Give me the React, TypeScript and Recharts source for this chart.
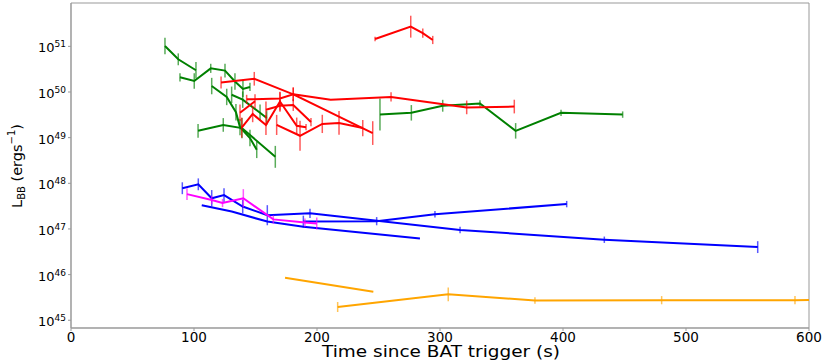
import React from 'react';
import { LineChart, Line, XAxis, YAxis, ErrorBar, ReferenceArea } from 'recharts';

// ---- data: time (s), luminosity L_BB (erg/s), error half-width (dex) ----
const g1T = [76.4, 87.2, 101.6];
const g1L = [1.02e51, 5.2e50, 3.0e50];
const g1E = [0.18, 0.13, 0.18];

const g2T = [88.6, 100.2, 113.6, 125.2, 133.3, 139.8, 145.5];
const g2L = [2.1e50, 1.74e50, 3.3e50, 2.95e50, 1.7e50, 1.17e50, 1.29e50];
const g2E = [0.09, 0.17, 0.1, 0.15, 0.18, 0.18, 0.09];

const g3T = [114.4, 126.6, 134.1, 137.4, 145.5, 151.0];
const g3L = [1.35e50, 7.8e49, 3.6e49, 1.7e49, 9.8e48, 5.4e48];
const g3E = [0.18, 0.18, 0.18, 0.18, 0.18, 0.18];

const g4T = [130.6, 139.6, 153.7, 159.1];
const g4L = [8.7e49, 6.8e49, 3.5e49, 2.7e49];
const g4E = [0.18, 0.18, 0.18, 0.15];

const g5T = [103.3, 123.8, 139.0, 166.1];
const g5L = [1.41e49, 1.9e49, 1.62e49, 3.8e48];
const g5E = [0.15, 0.15, 0.22, 0.24];

const g6T = [251.2, 276.7, 302.2, 332.5, 361.5, 398.4, 448.5];
const g6L = [3.2e49, 3.5e49, 5.0e49, 5.6e49, 1.41e49, 3.5e49, 3.2e49];
const g6E = [0.35, 0.17, 0.13, 0.07, 0.17, 0.07, 0.07];

const rTopT = [247.2, 276.2, 286.0, 294.1];
const rTopL = [1.45e51, 2.7e51, 1.95e51, 1.38e51];
const rTopE = [0.05, 0.24, 0.1, 0.09];

const r1T = [122.0, 149.0, 180.7, 211.1, 260.2, 321.7, 360.4];
const r1L = [1.62e50, 1.95e50, 8.9e49, 6.8e49, 7.8e49, 4.6e49, 4.8e49];
const r1E = [0.13, 0.15, 0.15, 0, 0.1, 0.15, 0.15];

const r2T = [142.8, 169.9, 180.7, 245.3];
const r2L = [6.9e49, 7.2e49, 8.9e49, 1.26e49];
const r2E = [0.1, 0.15, 0.15, 0.26];

const r3T = [137.4, 149.6];
const r3L = [3.5e49, 6.3e49];
const r3E = [0.18, 0.15];

const r4T = [138.8, 147.7, 158.5, 169.9, 183.5, 191.1];
const r4L = [1.66e49, 3.3e49, 1.9e49, 6.2e49, 1.82e49, 1.7e49];
const r4E = [0.22, 0.18, 0.22, 0.2, 0.18, 0.07];

const r5T = [158.5, 169.9, 180.7, 195.1];
const r5L = [4.1e49, 5.0e49, 5.2e49, 2.2e49];
const r5E = [0.18, 0.13, 0.13, 0.09];

const r6T = [167.2, 186.2, 204.3, 217.9, 237.2];
const r6L = [1.9e49, 1.1e49, 2.0e49, 2.1e49, 1.62e49];
const r6E = [0.22, 0.33, 0.2, 0.26, 0.18];

const b1T = [90.5, 103.5, 114.4, 124.4, 139.6, 159.6, 194.3, 316.3, 433.6, 558.3];
const b1L = [7.8e47, 9.5e47, 4.7e47, 5.5e47, 3.1e47, 2.0e47, 2.2e47, 9.5e46, 5.8e46, 4.0e46];
const b1E = [0.13, 0.13, 0.18, 0.15, 0.15, 0.22, 0.1, 0.07, 0.07, 0.13];

const b2T = [188.9, 248.5, 295.9, 403.0];
const b2L = [1.45e47, 1.48e47, 2.1e47, 3.5e47];
const b2E = [0.13, 0.09, 0.07, 0.07];

const b3T = [106.3, 130.7, 159.6, 188.9, 283.7];
const b3L = [3.3e47, 2.4e47, 1.45e47, 1.12e47, 6.2e46];
const b3E = [0, 0, 0, 0, 0];

const mT = [94.3, 114.4, 123.2, 140.1, 164.5, 190.2, 199.8];
const mL = [5.8e47, 4.3e47, 3.7e47, 4.7e47, 1.62e47, 1.38e47, 1.32e47];
const mE = [0.13, 0.09, 0.09, 0.2, 0.09, 0.09, 0.13];

const o1T = [174.0, 245.8];
const o1L = [8.5e45, 4.2e45];
const o1E = [0, 0];

const o2T = [216.8, 306.7, 377.2, 480.2, 588.6, 633.0];
const o2L = [1.95e45, 3.7e45, 2.7e45, 2.75e45, 2.75e45, 2.8e45];
const o2E = [0.11, 0.15, 0.07, 0.09, 0.09, 0];

const xTicks = [0, 100, 200, 300, 400, 500, 600];
const yTicks = [1e45, 1e46, 1e47, 1e48, 1e49, 1e50, 1e51];

const GREEN = '#008000';
const RED = '#ff0000';
const BLUE = '#0000ff';
const MAGENTA = '#ff00ff';
const ORANGE = '#ffa500';

const FONT = 'DejaVu Sans';

const build = (t: number[], L: number[], e: number[]) =>
  t.map((x, i) => ({
    t: x,
    L: L[i],
    err: [L[i] - L[i] / Math.pow(10, e[i]), L[i] * Math.pow(10, e[i]) - L[i]],
  }));

const series = [
  { id: 'g1', color: GREEN, data: build(g1T, g1L, g1E) },
  { id: 'g2', color: GREEN, data: build(g2T, g2L, g2E) },
  { id: 'g3', color: GREEN, data: build(g3T, g3L, g3E) },
  { id: 'g4', color: GREEN, data: build(g4T, g4L, g4E) },
  { id: 'g5', color: GREEN, data: build(g5T, g5L, g5E) },
  { id: 'g6', color: GREEN, data: build(g6T, g6L, g6E) },
  { id: 'b1', color: BLUE, data: build(b1T, b1L, b1E) },
  { id: 'b2', color: BLUE, data: build(b2T, b2L, b2E) },
  { id: 'b3', color: BLUE, data: build(b3T, b3L, b3E) },
  { id: 'm', color: MAGENTA, data: build(mT, mL, mE) },
  { id: 'rTop', color: RED, data: build(rTopT, rTopL, rTopE) },
  { id: 'r1', color: RED, data: build(r1T, r1L, r1E) },
  { id: 'r2', color: RED, data: build(r2T, r2L, r2E) },
  { id: 'r3', color: RED, data: build(r3T, r3L, r3E) },
  { id: 'r4', color: RED, data: build(r4T, r4L, r4E) },
  { id: 'r5', color: RED, data: build(r5T, r5L, r5E) },
  { id: 'r6', color: RED, data: build(r6T, r6L, r6E) },
  { id: 'o1', color: ORANGE, data: build(o1T, o1L, o1E) },
  { id: 'o2', color: ORANGE, data: build(o2T, o2L, o2E) },
];

const Y_MIN = Math.pow(10, 44.83);
const Y_MAX = Math.pow(10, 51.95);

const YTick = (props: any) => {
  const { x, y, payload } = props;
  const exp = Math.round(Math.log10(payload.value));
  return (
    <text x={x} y={y} dy={6} textAnchor="end" fontFamily={FONT} fontSize={13} fill="#000">
      10
      <tspan dy={-5} fontSize={9}>{exp}</tspan>
    </text>
  );
};

const YLabel = () => {
  const cx = 17;
  const cy = 166;
  return (
    <text
      x={cx}
      y={cy}
      transform={`rotate(-90 ${cx} ${cy})`}
      textAnchor="middle"
      dominantBaseline="central"
      fontFamily={FONT}
      fontSize={14.5}
      fill="#000"
    >
      L
      <tspan dy={4} fontSize={10}>BB</tspan>
      <tspan dy={-4}> (ergs</tspan>
      <tspan dy={-6} fontSize={10}>−1</tspan>
      <tspan dy={6}>)</tspan>
    </text>
  );
};

const XLabel = () => (
  <text
    x={441}
    y={357}
    textAnchor="middle"
    fontFamily={FONT}
    fontSize={15.5}
    fill="#000"
    textLength={238}
    lengthAdjust="spacingAndGlyphs"
  >
    Time since BAT trigger (s)
  </text>
);

export default function App() {
  return (
    <div style={{ position: 'absolute', left: 0, top: 0, width: 830, height: 363, background: '#fff' }}>
      <LineChart width={830} height={363} margin={{ top: 3, right: 21, bottom: 0, left: 0 }}>
        <XAxis
          dataKey="t"
          type="number"
          domain={[0, 600]}
          ticks={xTicks}
          allowDataOverflow
          height={35}
          stroke="#999"
          tickSize={3}
          tickMargin={1}
          tick={{ fill: '#000', fontSize: 13.5, fontFamily: FONT }}
          label={<XLabel />}
        />
        <YAxis
          type="number"
          scale="log"
          domain={[Y_MIN, Y_MAX]}
          ticks={yTicks}
          allowDataOverflow
          width={71}
          stroke="#999"
          tickSize={3}
          tickMargin={2}
          tick={<YTick />}
          label={<YLabel />}
        />
        <ReferenceArea x1={0} x2={600} y1={Y_MIN} y2={Y_MAX} fill="none" fillOpacity={0} stroke="#999" strokeWidth={1} ifOverflow="visible" />
        {series.map((s) => (
          <Line
            key={s.id}
            data={s.data}
            dataKey="L"
            type="linear"
            stroke={s.color}
            strokeWidth={2}
            dot={false}
            activeDot={false}
            isAnimationActive={false}
          >
            <ErrorBar dataKey="err" direction="y" width={0} stroke={s.color} strokeWidth={1.5} strokeOpacity={0.65} />
          </Line>
        ))}
      </LineChart>
    </div>
  );
}
